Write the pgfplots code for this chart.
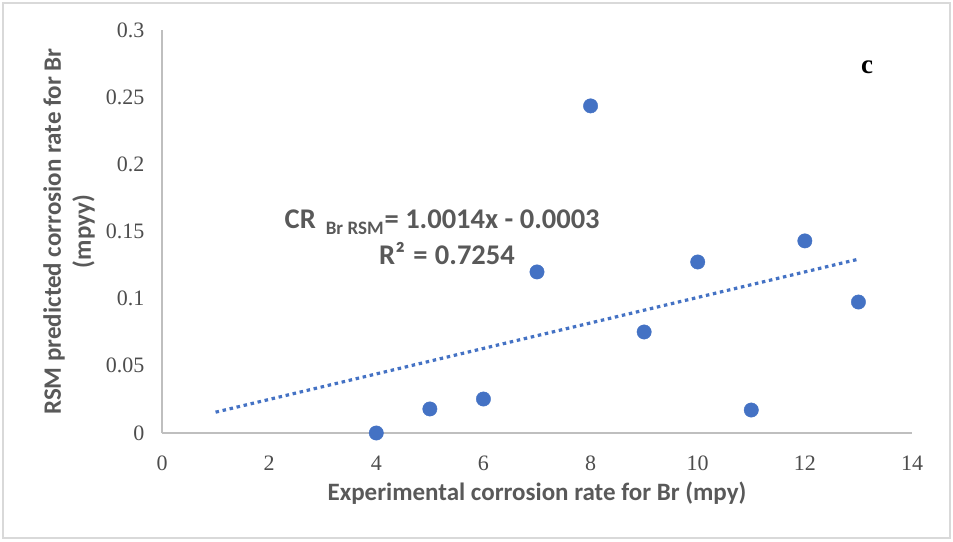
\documentclass[border=0pt]{standalone}
\usepackage{fontspec}
\setmainfont{Carlito}
\newfontfamily\tnr{Liberation Serif}
\usepackage{pgfplots}
\pgfplotsset{compat=1.18}
\definecolor{ptblue}{HTML}{4472C4}
\definecolor{txtgray}{HTML}{595959}
\definecolor{tickgray}{HTML}{4D4D4D}
\definecolor{axgray}{HTML}{BFBFBF}
\definecolor{framegray}{HTML}{D9D9D9}
\begin{document}
\begin{tikzpicture}
\useasboundingbox (0pt,0pt) rectangle (953pt,541pt);
\draw[framegray, line width=1.5pt] (3pt,3pt) rectangle (950pt,538pt);
\begin{axis}[
  at={(162pt,108pt)}, anchor=south west,
  scale only axis, width=750pt, height=403pt,
  xmin=0, xmax=14, ymin=0, ymax=0.3,
  axis x line*=bottom, axis y line*=left,
  axis line style={axgray, line width=1.5pt, -},
  major tick length=0pt,
  xtick={0,2,...,14},
  ytick={0,0.05,0.1,0.15,0.2,0.25,0.3},
  yticklabels={0,0.05,0.1,0.15,0.2,0.25,0.3},
  /pgf/number format/assume math mode=true,
  tick label style={font=\tnr\fontsize{22}{22}\selectfont, text=tickgray},
  yticklabel style={xshift=-14pt},
  xticklabel style={yshift=-19pt},
  xlabel={Experimental corrosion rate for Br (mpy)},
  ylabel={RSM predicted corrosion rate for Br\\(mpyy)},
  label style={font=\bfseries\fontsize{25}{30}\selectfont, text=txtgray},
  xlabel style={at={(axis description cs:0.5,-0.149)}, anchor=center},
  ylabel style={at={(axis description cs:-0.124,0.5)}, anchor=center, align=center},
  clip=false,
]
\addplot[ptblue, line width=3.2pt, dash pattern=on 3.5pt off 3.7pt] coordinates {(1,0.0155) (13,0.1294)};
\addplot[only marks, mark=*, mark size=7.2pt, mark options={fill=ptblue, draw=ptblue}] coordinates {
(4,0) (5,0.0179) (6,0.0253) (7,0.1199) (8,0.2435) (9,0.0752) (10,0.1273) (11,0.0171) (12,0.143) (13,0.0975)
};
\node[text=txtgray, font=\bfseries\fontsize{28.5}{28.5}\selectfont, anchor=center] at (axis cs:5.23,0.157) {CR\hspace{10pt}\raisebox{-6pt}{\fontsize{19}{19}\selectfont Br RSM}\hspace{1pt}= 1.0014x - 0.0003};
\node[text=txtgray, font=\bfseries\fontsize{28.5}{28.5}\selectfont, anchor=center] at (axis cs:5.32,0.1335) {R²\hspace{2pt} = \hspace{1pt}0.7254};
\node[font=\tnr\bfseries\fontsize{27}{27}\selectfont, anchor=center] at (axis cs:13.16,0.2725) {c};
\end{axis}
\end{tikzpicture}
\end{document}
